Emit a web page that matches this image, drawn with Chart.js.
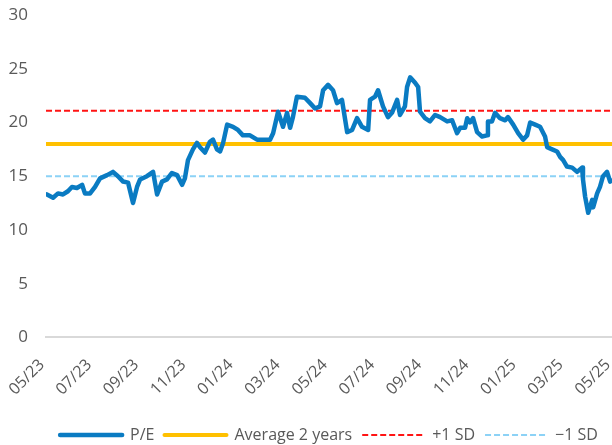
<!DOCTYPE html>
<html lang="en">
  <head>
    <meta charset="UTF-8" />
    <title>P/E</title>
    <script src="https://cdn.jsdelivr.net/npm/chart.js@4.4.1/dist/chart.umd.min.js"></script>
    <style>
      html, body { margin: 0; padding: 0; background: #fff; }
      #wrap { width: 612px; height: 445px; }
    </style>
  </head>
  <body>
    <div id="wrap"><canvas id="myChart"></canvas></div>
    <script>
      // x positions are months since 05/23
      const peMonths = [
        0.04, 0.30, 0.51, 0.72, 0.93, 1.10, 1.31, 1.53, 1.65, 1.87, 2.08, 2.29, 2.59, 2.84, 3.05, 3.27,
        3.48, 3.69, 3.86, 3.99, 4.28, 4.54, 4.71, 4.92, 5.13, 5.34, 5.56, 5.77, 5.89, 6.02, 6.23, 6.40,
        6.53, 6.74, 6.95, 7.08, 7.25, 7.38, 7.51, 7.68, 7.93, 8.14, 8.35, 8.65, 8.95, 9.20, 9.50, 9.63,
        9.84, 10.05, 10.22, 10.35, 10.47, 10.64, 10.98, 11.20, 11.41, 11.62, 11.75, 11.96, 12.17, 12.34,
        12.55, 12.77, 12.98, 13.19, 13.40, 13.66, 13.74, 13.95, 14.08, 14.29, 14.50, 14.67, 14.89, 15.01,
        15.22, 15.31, 15.44, 15.65, 15.78, 15.86, 16.07, 16.28, 16.50, 16.71, 17.01, 17.22, 17.43, 17.56,
        17.77, 17.86, 17.98, 18.11, 18.28, 18.49, 18.70, 18.74, 18.91, 19.04, 19.25, 19.47, 19.59, 19.81,
        20.02, 20.23, 20.40, 20.53, 20.74, 20.95, 21.16, 21.25, 21.46, 21.67, 21.80, 21.93, 22.09, 22.31,
        22.52, 22.73, 22.77, 22.86, 22.99, 23.16, 23.20, 23.37, 23.49, 23.62, 23.79, 23.92, 24.00
      ]
      const peValues = [
        13.3, 13.0, 13.4, 13.3, 13.6, 14.0, 13.9, 14.2, 13.4, 13.4, 14.0, 14.8, 15.1, 15.4, 15.0, 14.5,
        14.4, 12.5, 14.0, 14.7, 15.0, 15.4, 13.3, 14.5, 14.7, 15.3, 15.1, 14.2, 14.8, 16.5, 17.5, 18.1,
        17.7, 17.2, 18.2, 18.4, 17.5, 17.3, 18.1, 19.8, 19.6, 19.3, 18.8, 18.8, 18.4, 18.4, 18.4, 19.0,
        21.0, 19.6, 20.9, 19.5, 20.5, 22.4, 22.3, 21.8, 21.3, 21.5, 23.0, 23.5, 23.0, 21.8,
        22.1, 19.1, 19.3, 20.4, 19.6, 19.3, 22.1, 22.4, 23.0, 21.5, 20.5, 20.9, 22.1, 20.7,
        21.5, 23.3, 24.2, 23.7, 23.3, 21.0, 20.4, 20.1, 20.7, 20.5, 20.1, 20.2, 19.0, 19.5,
        19.5, 20.4, 20.0, 20.4, 19.1, 18.7, 18.8, 20.1, 20.1, 20.9, 20.4, 20.2, 20.5, 19.8,
        19.0, 18.4, 18.8, 20.0, 19.8, 19.6, 18.7, 17.7, 17.5, 17.3, 16.8, 16.5, 15.9, 15.8,
        15.4, 15.8, 14.7, 13.1, 11.6, 12.8, 12.1, 13.4, 14.0, 15.0, 15.4, 14.5, 14.6
      ]
      const tickLabels = ["05/23", "07/23", "09/23", "11/23", "01/24", "03/24", "05/24", "07/24", "09/24", "11/24", "01/25", "03/25", "05/25"]
      const average2y = 18.0
      const plusSD = 21.1
      const minusSD = 15.0
      const seriesNames = ["P/E", "Average 2 years", "+1 SD", "\u22121 SD"]

      const span = [0, 24]
      const flat = (v) => span.map((x) => ({ x: x, y: v }))
      const pePoints = peMonths.map((m, i) => ({ x: m, y: peValues[i] }))

      const textColor = "#595959"
      Chart.defaults.font.family = "'Open Sans', 'Noto Sans', sans-serif"
      Chart.defaults.color = textColor

      // legend lines keep the dash of their dataset
      function legendLabels(chart) {
        const items = Chart.defaults.plugins.legend.labels.generateLabels(chart)
        items.forEach((item) => {
          const ds = chart.data.datasets[item.datasetIndex]
          item.lineDash = ds.borderDash || []
          item.lineCap = ds.borderDash ? "butt" : "round"
          item.strokeStyle = ds.borderColor
          item.lineWidth = ds.borderWidth
        })
        return items
      }

      const ctx = document.getElementById("myChart").getContext("2d")
      const myChart = new Chart(ctx, {
        type: "line",
        data: {
          datasets: [
            {
              label: seriesNames[0],
              data: pePoints,
              borderColor: "#0a7bc2",
              backgroundColor: "#0a7bc2",
              borderWidth: 4.5,
              borderJoinStyle: "round",
              borderCapStyle: "round",
              pointRadius: 0,
              tension: 0,
            },
            {
              label: seriesNames[1],
              data: flat(average2y),
              borderColor: "#ffc000",
              backgroundColor: "#ffc000",
              borderWidth: 4,
              pointRadius: 0,
            },
            {
              label: seriesNames[2],
              data: flat(plusSD),
              borderColor: "#ff1414",
              backgroundColor: "#ff1414",
              borderWidth: 2,
              borderDash: [6, 3],
              pointRadius: 0,
            },
            {
              label: seriesNames[3],
              data: flat(minusSD),
              borderColor: "#8cd2f6",
              backgroundColor: "#8cd2f6",
              borderWidth: 2,
              borderDash: [6, 3],
              pointRadius: 0,
            },
          ],
        },
        options: {
          responsive: true,
          maintainAspectRatio: false,
          animation: false,
          layout: { padding: { left: 8, right: 0, top: 15, bottom: -8 } },
          plugins: {
            tooltip: { enabled: false },
            legend: {
              position: "bottom",
              fullSize: false,
              labels: {
                usePointStyle: true,
                pointStyle: "line",
                pointStyleWidth: 62,
                padding: 10,
                color: textColor,
                font: { size: 16 },
                generateLabels: legendLabels,
              },
            },
          },
          scales: {
            x: {
              type: "linear",
              min: 0,
              max: 24,
              grid: { display: false, drawTicks: false },
              border: { display: true, color: "#d9d9d9", width: 2 },
              ticks: {
                stepSize: 2,
                autoSkip: false,
                minRotation: 45,
                maxRotation: 45,
                padding: 18,
                labelOffset: -4,
                color: textColor,
                font: { size: 16 },
                callback: (v) => tickLabels[v / 2],
              },
              afterFit: (scale) => {
                scale.paddingLeft = 0
                scale.paddingRight = 0
              },
            },
            y: {
              min: 0,
              max: 30,
              grid: { display: false, drawTicks: false },
              border: { display: false },
              ticks: {
                stepSize: 5,
                padding: 18,
                color: textColor,
                font: { size: 17 },
              },
              afterFit: (scale) => {
                scale.width = 38
                scale.paddingTop = 0
                scale.paddingBottom = 0
              },
            },
          },
        },
      })
    </script>
  </body>
</html>
